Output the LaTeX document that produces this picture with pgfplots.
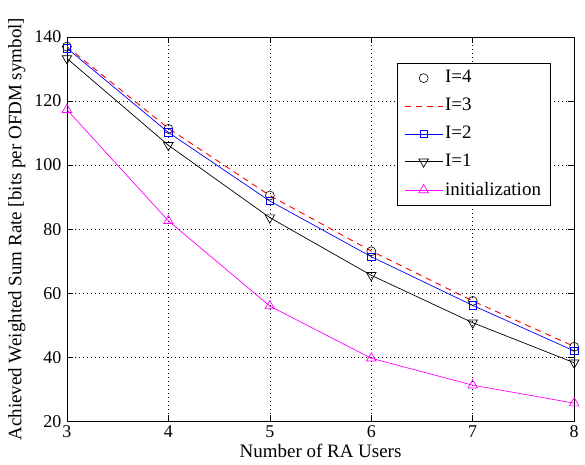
\documentclass[border=0pt]{standalone}
\usepackage{pgfplots}
\pgfplotsset{compat=1.18}
\usepackage{fontspec}
\setmainfont{Liberation Serif}
\definecolor{mmag}{RGB}{255,0,255}
\definecolor{mred}{RGB}{255,0,0}
\definecolor{mblue}{RGB}{0,0,255}
\begin{document}
\fontsize{19}{22}\selectfont
\begin{tikzpicture}
\begin{axis}[
  width=508pt, height=385pt, scale only axis,
  xmin=3, xmax=8, ymin=20, ymax=140,
  xtick={3,4,5,6,7,8}, ytick={20,40,60,80,100,120,140},
  /pgf/number format/assume math mode=true,
  tick align=inside, tick pos=both,
  major tick length=6pt,
  grid=major,
  grid style={black, line width=0.5pt, dash pattern=on 0.8pt off 3.2pt},
  axis line style={black, line width=0.8pt},
  every tick/.style={black, line width=0.6pt},
  xlabel={Number of RA Users},
  ylabel={Achieved Weighted Sum Rate [bits per OFDM symbol]},
  xlabel style={yshift=7pt},
  ylabel style={yshift=-4pt},
  ticklabel style={font=\fontsize{18}{20}\selectfont},
  xticklabel style={yshift=2pt},
  yticklabel style={xshift=1pt},
  legend style={at={(0.953,0.932)}, anchor=north east, draw=black, line width=0.8pt,
    font=\fontsize{19}{22}\selectfont, row sep=8.5pt, inner xsep=7pt, inner ysep=5pt, cells={anchor=west}},
  legend cell align=left,
  legend image code/.code={\draw[mark repeat=2,mark phase=2,#1] plot coordinates {(0pt,0pt) (19pt,0pt) (38pt,0pt)};},
]
\addplot[only marks, mark=o, mark size=4.5pt, black, line width=0.6pt] coordinates {(3,137) (4,111.3) (5,90.5) (6,73.1) (7,57.6) (8,43.3)};
\addlegendentry{I=4}
\addplot[mred, line width=0.9pt, dash pattern=on 6pt off 5pt] coordinates {(3,137) (4,111.5) (5,90.5) (6,73.2) (7,57.6) (8,43.4)};
\addlegendentry{I=3}
\addplot[mblue, line width=0.7pt, mark=square, mark size=3.8pt, mark options={solid}] coordinates {(3,136.5) (4,110.2) (5,88.8) (6,71.4) (7,56.2) (8,42)};
\addlegendentry{I=2}
\addplot[black, line width=0.7pt, mark=triangle, mark size=5.5pt, mark options={rotate=180}] coordinates {(3,133.3) (4,106.2) (5,83.6) (6,65.6) (7,50.8) (8,38.3)};
\addlegendentry{I=1}
\addplot[mmag, line width=0.7pt, mark=triangle, mark size=5.5pt] coordinates {(3,117.3) (4,82.6) (5,56) (6,39.7) (7,31.3) (8,25.7)};
\addlegendentry{initialization}
\end{axis}
\path ([xshift=-67pt,yshift=-43pt]current axis.south west) rectangle ([xshift=10pt,yshift=37pt]current axis.north east);
\end{tikzpicture}
\end{document}
